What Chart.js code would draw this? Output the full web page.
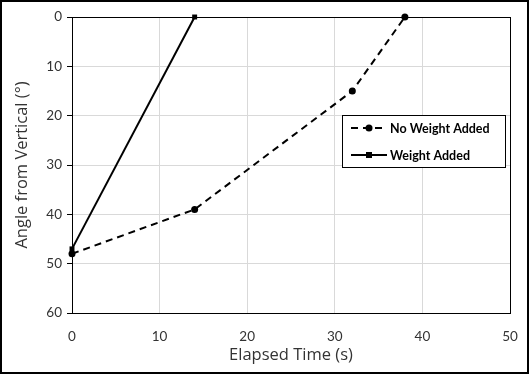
<!DOCTYPE html>
<html>
<head>
<meta charset="utf-8">
<script src="https://cdn.jsdelivr.net/npm/chart.js@4/dist/chart.umd.min.js"></script>
<style>
  html, body { margin: 0; padding: 0; background: #fff; }
  #wrap { width: 529px; height: 374px; position: relative; }
</style>
</head>
<body>
<div id="wrap"><canvas id="c" width="529" height="374"></canvas></div>
<script>
const seriesNames = ["No Weight Added", "Weight Added"];
const noWeightTime = [0, 14, 32, 38];
const noWeightAngle = [48, 39, 15, 0];
const weightTime = [0, 14];
const weightAngle = [47, 0];
const xTicks = [0, 10, 20, 30, 40, 50];
const yTicks = [0, 10, 20, 30, 40, 50, 60];
const xTitle = "Elapsed Time (s)";
const yTitle = "Angle from Vertical (°)";

const FONT = "Lato, 'Open Sans', sans-serif";
const TFONT = "'Open Sans', Lato, sans-serif";
const TEXT = "#333333";

function pts(xs, ys) { return xs.map((x, i) => ({ x: x, y: ys[i] })); }

const frame = {
  id: 'frame',
  afterDraw(chart) {
    const ctx = chart.ctx;
    const a = chart.chartArea;
    ctx.save();
    ctx.strokeStyle = '#000';
    ctx.lineWidth = 1;
    ctx.strokeRect(Math.round(a.left) + 0.5, Math.round(a.top) + 0.5,
                   Math.round(a.right - a.left), Math.round(a.bottom - a.top));
    ctx.lineWidth = 2;
    ctx.strokeRect(1, 1, chart.width - 2, chart.height - 2);

    // legend box
    const bx = 342.5, by = 115.5, bw = 163, bh = 52;
    ctx.fillStyle = '#fff';
    ctx.fillRect(bx, by, bw, bh);
    ctx.lineWidth = 1;
    ctx.strokeStyle = '#000';
    ctx.strokeRect(bx, by, bw, bh);
    const rows = [128, 155];
    chart.data.datasets.forEach((ds, i) => {
      const y = rows[i];
      ctx.beginPath();
      ctx.lineWidth = 2;
      ctx.strokeStyle = '#000';
      ctx.setLineDash(ds.borderDash || []);
      ctx.lineDashOffset = 0;
      ctx.moveTo(351, y);
      ctx.lineTo(387, y);
      ctx.stroke();
      ctx.setLineDash([]);
      ctx.fillStyle = '#000';
      if (ds.pointStyle === 'rect') {
        ctx.fillRect(366, y - 3, 6, 6);
      } else {
        ctx.beginPath();
        ctx.arc(369, y, 3.5, 0, Math.PI * 2);
        ctx.fill();
      }
      ctx.font = "bold 12.5px " + FONT;
      ctx.fillStyle = '#000';
      ctx.textBaseline = 'middle';
      ctx.textAlign = 'left';
      ctx.fillText(ds.label, 390, y + 1);
    });
    ctx.restore();
  }
};

new Chart(document.getElementById('c'), {
  type: 'scatter',
  data: {
    datasets: [
      {
        label: seriesNames[0],
        data: pts(noWeightTime, noWeightAngle),
        showLine: true,
        clip: false,
        borderColor: '#000',
        backgroundColor: '#000',
        borderWidth: 2,
        borderDash: [7, 5],
        pointStyle: 'circle',
        pointRadius: 3.5,
        pointBorderWidth: 0,
        pointBackgroundColor: '#000'
      },
      {
        label: seriesNames[1],
        data: pts(weightTime, weightAngle),
        showLine: true,
        clip: false,
        borderColor: '#000',
        backgroundColor: '#000',
        borderWidth: 2,
        pointStyle: 'rect',
        pointRadius: 3.5,
        pointBorderWidth: 0,
        pointBackgroundColor: '#000'
      }
    ]
  },
  options: {
    responsive: false,
    animation: false,
    devicePixelRatio: 1,
    layout: { padding: { left: 0, right: 19, top: 17, bottom: 0 } },
    plugins: { legend: { display: false }, tooltip: { enabled: false } },
    scales: {
      x: {
        type: 'linear',
        position: 'bottom',
        min: 0, max: 50,
        afterBuildTicks(scale) { scale.ticks = xTicks.map(v => ({ value: v })); },
        afterFit(scale) { scale.height = 61; },
        grid: { color: '#d9d9d9', lineWidth: 1, drawTicks: true, tickLength: 13, tickColor: 'rgba(0,0,0,0)' },
        border: { color: '#000', width: 1 },
        ticks: { color: TEXT, font: { family: FONT, size: 13.5 }, padding: 3, maxRotation: 0 },
        title: { display: true, text: xTitle, color: TEXT, font: { family: TFONT, size: 16.5 }, padding: { top: 0, bottom: 9 } }
      },
      y: {
        type: 'linear',
        reverse: true,
        min: 0, max: 60,
        afterBuildTicks(scale) { scale.ticks = yTicks.map(v => ({ value: v })); },
        afterFit(scale) { scale.width = 72; },
        grid: { color: '#d9d9d9', lineWidth: 1, drawTicks: true, tickLength: 5, tickColor: '#000' },
        border: { color: '#000', width: 1 },
        ticks: { color: TEXT, font: { family: FONT, size: 13.5 }, padding: 5 },
        title: { display: true, text: yTitle, color: TEXT, font: { family: TFONT, size: 16.5 }, padding: { top: 12, bottom: 0 } }
      }
    }
  },
  plugins: [frame]
});
</script>
</body>
</html>
